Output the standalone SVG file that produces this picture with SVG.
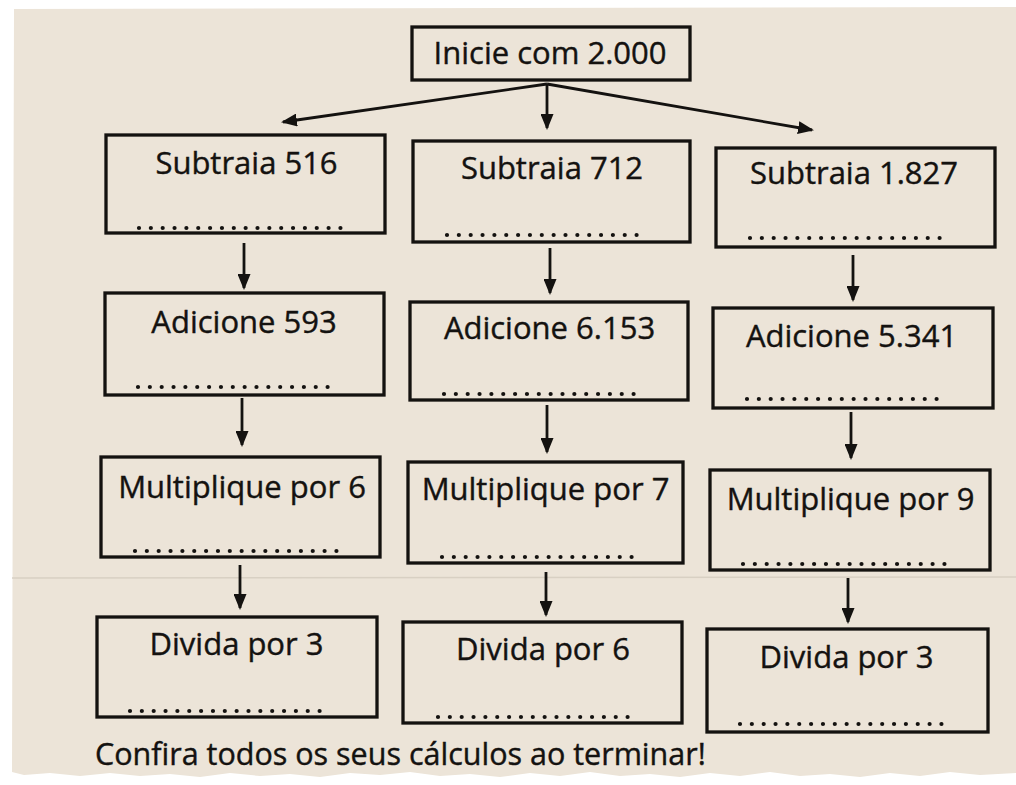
<svg xmlns="http://www.w3.org/2000/svg" width="1016" height="785" viewBox="0 0 1016 785">
  <style>
    .box { fill: none; stroke: #141210; stroke-width: 3.3; }
    .lbl { font-family: "Open Sans", "Noto Sans", "Liberation Sans", sans-serif; font-size: 31px; fill: #141210; text-anchor: middle; stroke: #141210; stroke-width: 0.4; }
    .dots { stroke: #141210; stroke-width: 4.2; stroke-linecap: round; stroke-dasharray: 0 11.85; fill: none; }
    .conn { stroke: #141210; stroke-width: 2.8; fill: none; marker-end: url(#ah); }
  </style>
  <defs>
    <marker id="ah" viewBox="0 0 16 13" refX="14" refY="6.5" markerWidth="16" markerHeight="13" markerUnits="userSpaceOnUse" orient="auto">
      <path d="M0,0 L16,6.5 L0,13 Z" fill="#141210"/>
    </marker>
  </defs>

  <rect x="0" y="0" width="1016" height="785" fill="#ffffff"/>
  <path id="paper" d="M14,9 L1016,7 L1016,773 L980,775 L950,772 L920,776 L890,773 L860,777 L830,774 L800,776 L770,772 L740,776 L710,773 L680,777 L650,774 L620,776 L590,772 L560,776 L530,773 L500,777 L470,774 L440,776 L410,772 L380,775 L350,773 L320,777 L290,774 L260,776 L230,773 L200,777 L170,774 L140,776 L110,773 L80,776 L50,773 L24,775 L12,772 Z" fill="#ece4d8"/>
  <line x1="12" y1="578" x2="1016" y2="577" stroke="#d8d0c3" stroke-width="1.5"/>

  <g id="connectors">
    <line class="conn" x1="547" y1="84" x2="283" y2="122"/>
    <line class="conn" x1="547" y1="84" x2="547" y2="128"/>
    <line class="conn" x1="547" y1="84" x2="812" y2="130"/>
    <line class="conn" x1="244" y1="243" x2="244" y2="288"/>
    <line class="conn" x1="550" y1="248" x2="550" y2="293"/>
    <line class="conn" x1="853" y1="255" x2="853" y2="300"/>
    <line class="conn" x1="242" y1="398" x2="242" y2="445"/>
    <line class="conn" x1="547" y1="405" x2="547" y2="452"/>
    <line class="conn" x1="851" y1="412" x2="851" y2="458"/>
    <line class="conn" x1="240" y1="565" x2="240" y2="608"/>
    <line class="conn" x1="546" y1="572" x2="546" y2="615"/>
    <line class="conn" x1="848" y1="578" x2="848" y2="622"/>
  </g>

  <g id="start">
    <rect class="box" x="412" y="27" width="278" height="53"/>
    <text class="lbl" x="550" y="64">Inicie com 2.000</text>
  </g>

  <g id="a1">
    <rect class="box" x="106" y="135" width="279" height="98"/>
    <text class="lbl" x="246.5" y="174">Subtraia 516</text>
    <line class="dots" x1="139" y1="228" x2="341" y2="228"/>
  </g>
  <g id="b1">
    <rect class="box" x="413" y="141" width="277" height="101"/>
    <text class="lbl" x="552" y="179">Subtraia 712</text>
    <line class="dots" x1="447" y1="235" x2="645" y2="235"/>
  </g>
  <g id="c1">
    <rect class="box" x="716" y="148" width="279" height="99"/>
    <text class="lbl" x="854" y="184">Subtraia 1.827</text>
    <line class="dots" x1="750" y1="238" x2="950" y2="238"/>
  </g>

  <g id="a2">
    <rect class="box" x="105" y="293" width="279" height="102"/>
    <text class="lbl" x="244" y="333">Adicione 593</text>
    <line class="dots" x1="138" y1="387" x2="338" y2="387"/>
  </g>
  <g id="b2">
    <rect class="box" x="410" y="302" width="278" height="98"/>
    <text class="lbl" x="549.5" y="339">Adicione 6.153</text>
    <line class="dots" x1="444" y1="394" x2="643" y2="394"/>
  </g>
  <g id="c2">
    <rect class="box" x="713" y="308" width="280" height="100"/>
    <text class="lbl" x="851.5" y="347">Adicione 5.341</text>
    <line class="dots" x1="747" y1="399" x2="947" y2="399"/>
  </g>

  <g id="a3">
    <rect class="box" x="101" y="457" width="279" height="100"/>
    <text class="lbl" x="242" y="498">Multiplique por 6</text>
    <line class="dots" x1="135" y1="551" x2="337" y2="551"/>
  </g>
  <g id="b3">
    <rect class="box" x="408" y="462" width="275" height="101"/>
    <text class="lbl" x="545.5" y="500">Multiplique por 7</text>
    <line class="dots" x1="442" y1="557" x2="642" y2="557"/>
  </g>
  <g id="c3">
    <rect class="box" x="710" y="470" width="280" height="100"/>
    <text class="lbl" x="850.5" y="510">Multiplique por 9</text>
    <line class="dots" x1="743" y1="564" x2="945" y2="564"/>
  </g>

  <g id="a4">
    <rect class="box" x="97" y="617" width="280" height="100"/>
    <text class="lbl" x="236.5" y="655">Divida por 3</text>
    <line class="dots" x1="130" y1="711" x2="331" y2="711"/>
  </g>
  <g id="b4">
    <rect class="box" x="403" y="622" width="279" height="101"/>
    <text class="lbl" x="543" y="660">Divida por 6</text>
    <line class="dots" x1="438" y1="717" x2="636" y2="717"/>
  </g>
  <g id="c4">
    <rect class="box" x="707" y="629" width="281" height="103"/>
    <text class="lbl" x="846.5" y="668">Divida por 3</text>
    <line class="dots" x1="740" y1="724" x2="942" y2="724"/>
  </g>

  <text id="footer" x="95" y="765" font-family="Open Sans, Noto Sans, Liberation Sans, sans-serif" font-size="30.5" fill="#141210" stroke="#141210" stroke-width="0.4">Confira todos os seus cálculos ao terminar!</text>
</svg>
